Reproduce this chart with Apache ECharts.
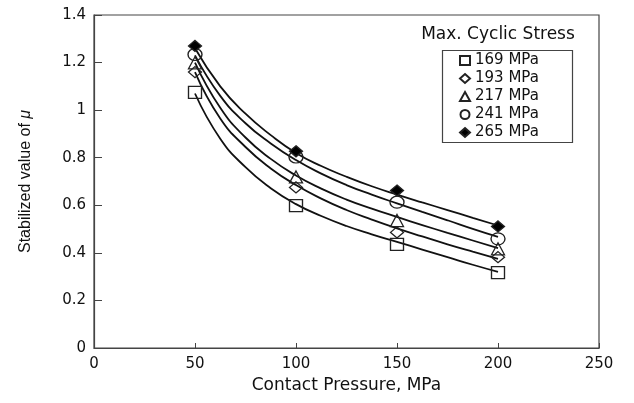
<!DOCTYPE html>
<html><head><meta charset="utf-8">
<script src="https://cdn.jsdelivr.net/npm/echarts@6/dist/echarts.min.js"></script>
<style>html,body{margin:0;padding:0;background:#fff}#c{width:634px;height:403px}</style>
</head><body><div id="c"></div>
<script>
// Measured points (x = contact pressure, MPa)
const pressures = [50, 100, 150, 200];
const stressNames = ['169 MPa', '193 MPa', '217 MPa', '241 MPa', '265 MPa'];
const mu169 = [1.075, 0.599, 0.436, 0.317];
const mu193 = [1.16, 0.675, 0.486, 0.382];
const mu217 = [1.199, 0.719, 0.536, 0.417];
const mu241 = [1.234, 0.803, 0.613, 0.459];
const mu265 = [1.27, 0.827, 0.662, 0.511];
// Fitted curves
const fitPressures = [50, 62.5, 75, 87.5, 100, 112.5, 125, 137.5, 150, 162.5, 175, 187.5, 200];
const fit169 = [1.07, 0.88, 0.76, 0.672, 0.605, 0.555, 0.513, 0.478, 0.446, 0.414, 0.382, 0.35, 0.32];
const fit193 = [1.16, 0.965, 0.845, 0.755, 0.685, 0.628, 0.58, 0.54, 0.503, 0.469, 0.436, 0.405, 0.375];
const fit217 = [1.20, 1.01, 0.885, 0.795, 0.725, 0.67, 0.624, 0.586, 0.551, 0.517, 0.484, 0.452, 0.42];
const fit241 = [1.23, 1.06, 0.945, 0.86, 0.79, 0.733, 0.685, 0.645, 0.608, 0.572, 0.537, 0.501, 0.467];
const fit265 = [1.26, 1.10, 0.985, 0.895, 0.82, 0.765, 0.72, 0.68, 0.645, 0.612, 0.58, 0.547, 0.515];
const xTicks = [0, 50, 100, 150, 200, 250];
const yTicks = [0, 0.2, 0.4, 0.6, 0.8, 1, 1.2, 1.4];

const measured = [mu169, mu193, mu217, mu241, mu265];
const fits = [fit169, fit193, fit217, fit241, fit265];
const symbols = ['rect', 'diamond', 'triangle', 'circle', 'diamond'];
const symSizes = [[13, 12], [13, 11], [13, 12], [14, 12], [13, 11]];
const fills = ['rgba(0,0,0,0)', 'rgba(0,0,0,0)', 'rgba(0,0,0,0)', 'rgba(0,0,0,0)', '#000'];

const zip = (xs, ys) => xs.map((x, i) => [x, ys[i]]);
const series = [];
fits.forEach((f, i) => {
  series.push({
    name: 'fit ' + stressNames[i], type: 'line', data: zip(fitPressures, f),
    smooth: 0.5, showSymbol: false, symbol: 'none', silent: true, z: 2,
    lineStyle: { color: '#111', width: 1.8 }
  });
});
measured.forEach((m, i) => {
  series.push({
    name: stressNames[i], type: 'scatter', data: zip(pressures, m),
    symbol: symbols[i], symbolSize: symSizes[i], z: 3,
    itemStyle: { color: fills[i], borderColor: '#222', borderWidth: 1.3, opacity: 1 }
  });
});

const chart = echarts.init(document.getElementById('c'));
chart.setOption({
  animation: false,
  backgroundColor: '#fff',
  grid: { left: 94, right: 35, top: 15, bottom: 55, show: true, borderColor: '#444', borderWidth: 1.2 },
  xAxis: {
    type: 'value', min: xTicks[0], max: xTicks[xTicks.length - 1], interval: 50,
    name: 'Contact Pressure, MPa', nameLocation: 'middle', nameGap: 28,
    nameTextStyle: { fontFamily: 'DejaVu Sans', fontSize: 17, color: '#111' },
    axisLine: { show: true, lineStyle: { color: '#444', width: 1.2 } },
    axisTick: { show: true, inside: true, length: 5, lineStyle: { color: '#444' } },
    axisLabel: { fontFamily: 'DejaVu Sans', fontSize: 15, color: '#111', margin: 9 },
    splitLine: { show: false }
  },
  yAxis: {
    type: 'value', min: yTicks[0], max: yTicks[yTicks.length - 1], interval: 0.2,
    name: '{n|Stabilized value of }{m|μ}', nameLocation: 'middle', nameGap: 60,
    nameTextStyle: {
      fontFamily: 'Liberation Sans', fontSize: 16, color: '#111',
      rich: {
        n: { fontFamily: 'Liberation Sans', fontSize: 16, color: '#111' },
        m: { fontFamily: 'Liberation Sans', fontSize: 16, fontStyle: 'italic', color: '#111' }
      }
    },
    axisLine: { show: true, lineStyle: { color: '#444', width: 1.2 } },
    axisTick: { show: true, inside: true, length: 8, lineStyle: { color: '#444' } },
    axisLabel: { fontFamily: 'DejaVu Sans', fontSize: 15, color: '#111', margin: 8 },
    splitLine: { show: false }
  },
  legend: {
    orient: 'vertical', left: 459, top: 53, padding: 0,
    itemWidth: 10, itemHeight: 9, itemGap: 3,
    data: stressNames.map((n, i) => ({ name: n, icon: symbols[i] })),
    textStyle: { fontFamily: 'DejaVu Sans', fontSize: 15, lineHeight: 14, color: '#111', padding: [0, 0, 0, 0] },
    selectedMode: false
  },
  graphic: [
    { type: 'rect', left: 440, top: 48, shape: { width: 130, height: 92 },
      style: { fill: 'none', stroke: '#444', lineWidth: 1.2 }, z: 10 },
    { type: 'text', x: 498, y: 35, z: 10,
      style: { text: 'Max. Cyclic Stress', fontFamily: 'DejaVu Sans', fontSize: 17, fill: '#111', align: 'center', verticalAlign: 'middle' } }
  ],
  series: series
});
</script>
</body></html>
